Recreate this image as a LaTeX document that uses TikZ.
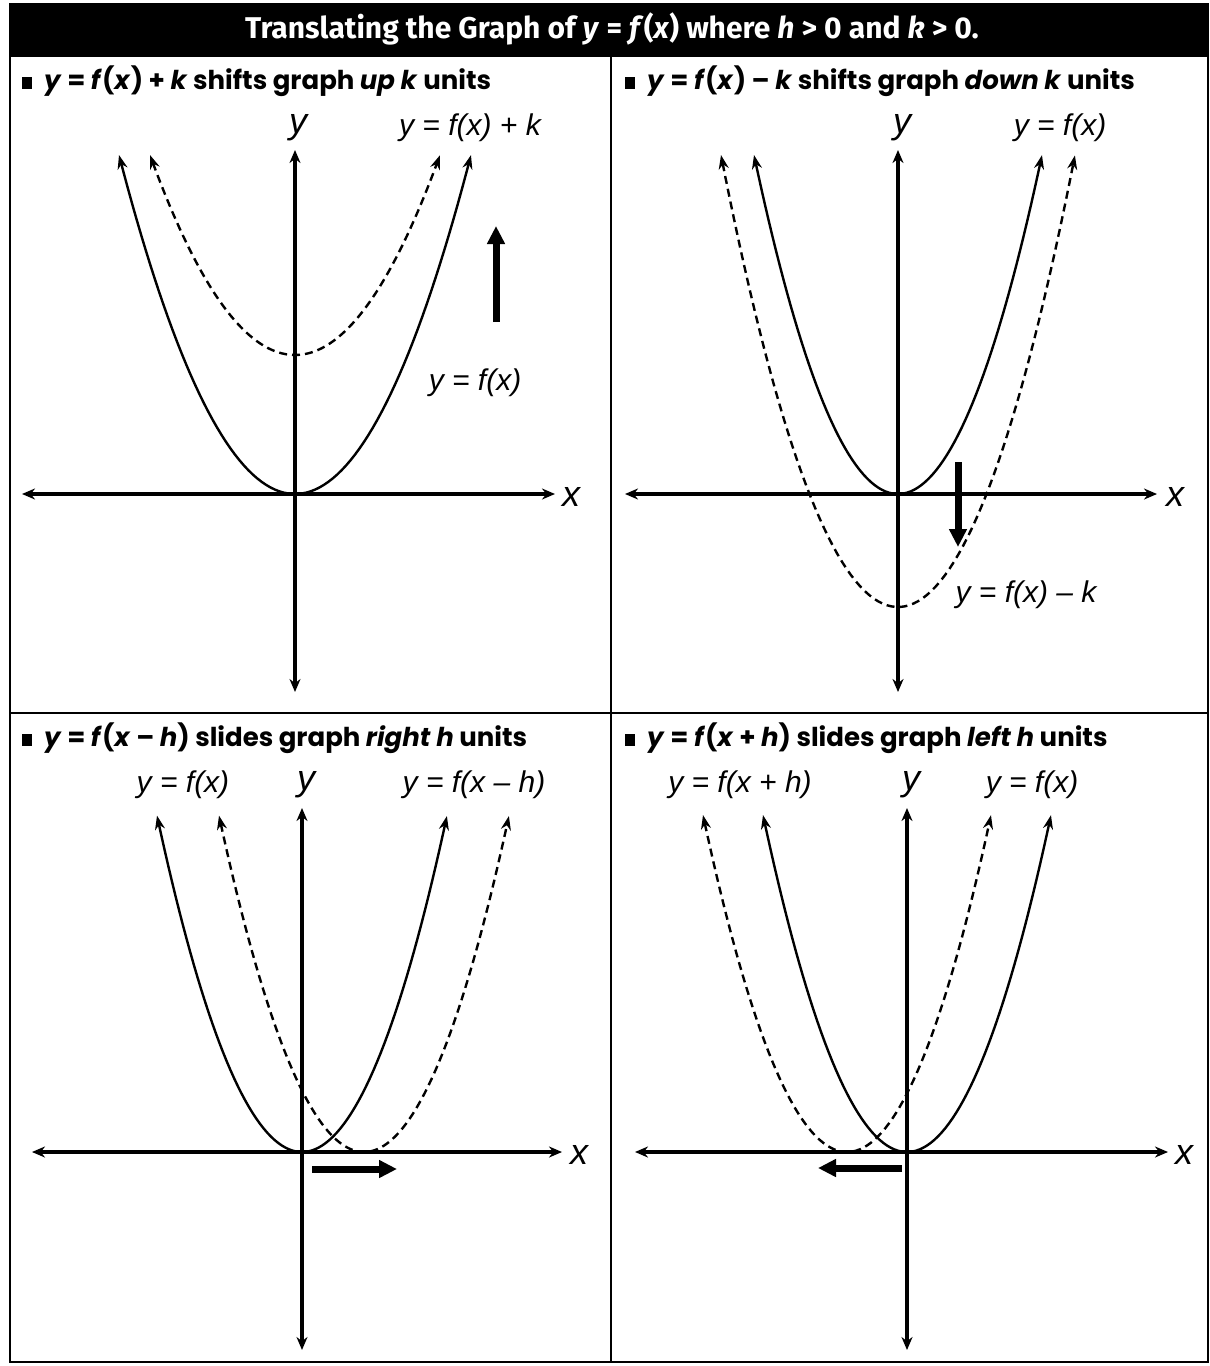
\documentclass[tikz,border=0pt]{standalone}
\usepackage{fontspec}
\setmainfont{Poppins}
\newfontfamily\titlefont{Fira Sans}
\newfontfamily\labfont{Liberation Sans}
\usetikzlibrary{arrows.meta}
\newcommand\bul{\rule[0pt]{10pt}{12pt}\hspace{12pt}}
\begin{document}
\begin{tikzpicture}[x=1pt,y=-1pt,
  axis/.style={line width=3.4pt,{Stealth[length=13pt,width=11pt]}-{Stealth[length=13pt,width=11pt]}},
  curve/.style={line width=2.4pt,{Stealth[length=14pt,width=10pt]}-{Stealth[length=14pt,width=10pt]}},
  dcurve/.style={curve,dash pattern=on 8pt off 5pt},
  shiftarrow/.style={line width=7pt,-{Triangle[length=18pt,width=17pt]}},
  lab/.style={font=\labfont\itshape\fontsize{30}{34}\selectfont,inner sep=0pt},
  axlab/.style={font=\labfont\itshape\fontsize{36}{40}\selectfont,inner sep=0pt},
  head/.style={font=\fontsize{26}{30}\selectfont\bfseries,anchor=west,inner sep=0pt},
  frame/.style={line width=1.6pt}]
\useasboundingbox (0,0) rectangle (1210,1366);
\fill[white] (0,0) rectangle (1210,1366);
\fill[black] (10,4) rectangle (1208,57);
\draw[frame] (10,4) rectangle (1208,1362);
\draw[frame] (611,57) -- (611,1362);
\draw[frame] (10,713) -- (1208,713);
\node[text=white,font=\titlefont\fontsize{30}{34}\selectfont\bfseries,inner sep=0pt] (title) at (612,29)
  {Translating the Graph of \textit{y} = \textit{f}(\textit{x}) where \textit{h} > 0 and \textit{k} > 0.};
% headers
\node[head] (h1) at (22,81) {\bul\textit{y} = \textit{f}(\textit{x}) + \textit{k} shifts graph \textit{up} \textit{k} units};
\node[head] (h2) at (625,81) {\bul\textit{y} = \textit{f}(\textit{x}) – \textit{k} shifts graph \textit{down} \textit{k} units};
\node[head] (h3) at (22,738) {\bul\textit{y} = \textit{f}(\textit{x} – \textit{h}) slides graph \textit{right} \textit{h} units};
\node[head] (h4) at (625,738) {\bul\textit{y} = \textit{f}(\textit{x} + \textit{h}) slides graph \textit{left} \textit{h} units};

% ---------- panel 1 ----------
\coordinate (xl1) at (22,494); \coordinate (xr1) at (555,494);
\coordinate (yb1) at (295,692); \coordinate (yt1) at (295,150);
\draw[axis] (xl1) -- (xr1);
\draw[axis] (yb1) -- (yt1);
\draw[curve] plot[domain=-1.76:1.76,samples=80] ({295+100*(\x)},{494-109.44*(\x)*(\x)});
\draw[dcurve] plot[domain=-1.45:1.45,samples=80] ({295+100*(\x)},{355-95.12*(\x)*(\x)});
\coordinate (ua) at (496,322); \coordinate (ub) at (496,226);
\draw[shiftarrow] (ua) -- (ub);
\node[axlab] (ly1) at (298,128) {y};
\node[axlab] (lx1) at (571,497) {x};
\node[lab] (c1a) at (470,128) {y = f(x) + k};
\node[lab] (c1b) at (475,383) {y = f(x)};

% ---------- panel 2 ----------
\coordinate (xl2) at (625,494); \coordinate (xr2) at (1157,494);
\coordinate (yb2) at (898,692); \coordinate (yt2) at (898,150);
\draw[axis] (xl2) -- (xr2);
\draw[axis] (yb2) -- (yt2);
\draw[curve] plot[domain=-1.44:1.44,samples=80] ({898+100*(\x)},{494-163.48*(\x)*(\x)});
\draw[dcurve] plot[domain=-1.77:1.77,samples=80] ({898+100*(\x)},{607-144.27*(\x)*(\x)});
\coordinate (da) at (958,462); \coordinate (db) at (958,547);
\draw[shiftarrow] (da) -- (db);
\node[axlab] (ly2) at (902,128) {y};
\node[axlab] (lx2) at (1175,497) {x};
\node[lab] (c2a) at (1060,128) {y = f(x)};
\node[lab] (c2b) at (1026,595) {y = f(x) – k};

% ---------- panel 3 ----------
\coordinate (xl3) at (32,1152); \coordinate (xr3) at (562,1152);
\coordinate (yb3) at (302,1350); \coordinate (yt3) at (302,808);
\draw[axis] (xl3) -- (xr3);
\draw[axis] (yb3) -- (yt3);
\draw[curve] plot[domain=-1.45:1.45,samples=80] ({302+100*(\x)},{1152-160*(\x)*(\x)});
\draw[dcurve] plot[domain=-1.45:1.45,samples=80] ({364+100*(\x)},{1152-160*(\x)*(\x)});
\coordinate (ra) at (312,1169); \coordinate (rb) at (397,1169);
\draw[shiftarrow] (ra) -- (rb);
\node[axlab] (ly3) at (306,785) {y};
\node[axlab] (lx3) at (579,1155) {x};
\node[lab] (c3a) at (183,785) {y = f(x)};
\node[lab] (c3b) at (474,785) {y = f(x – h)};

% ---------- panel 4 ----------
\coordinate (xl4) at (635,1152); \coordinate (xr4) at (1168,1152);
\coordinate (yb4) at (907,1350); \coordinate (yt4) at (907,808);
\draw[axis] (xl4) -- (xr4);
\draw[axis] (yb4) -- (yt4);
\draw[curve] plot[domain=-1.44:1.44,samples=80] ({907+100*(\x)},{1152-162.5*(\x)*(\x)});
\draw[dcurve] plot[domain=-1.44:1.44,samples=80] ({847+100*(\x)},{1152-162.5*(\x)*(\x)});
\coordinate (la) at (902,1168); \coordinate (lb) at (818,1168);
\draw[shiftarrow] (la) -- (lb);
\node[axlab] (ly4) at (911,785) {y};
\node[axlab] (lx4) at (1184,1155) {x};
\node[lab] (c4a) at (740,785) {y = f(x + h)};
\node[lab] (c4b) at (1032,785) {y = f(x)};
\end{tikzpicture}
\end{document}
